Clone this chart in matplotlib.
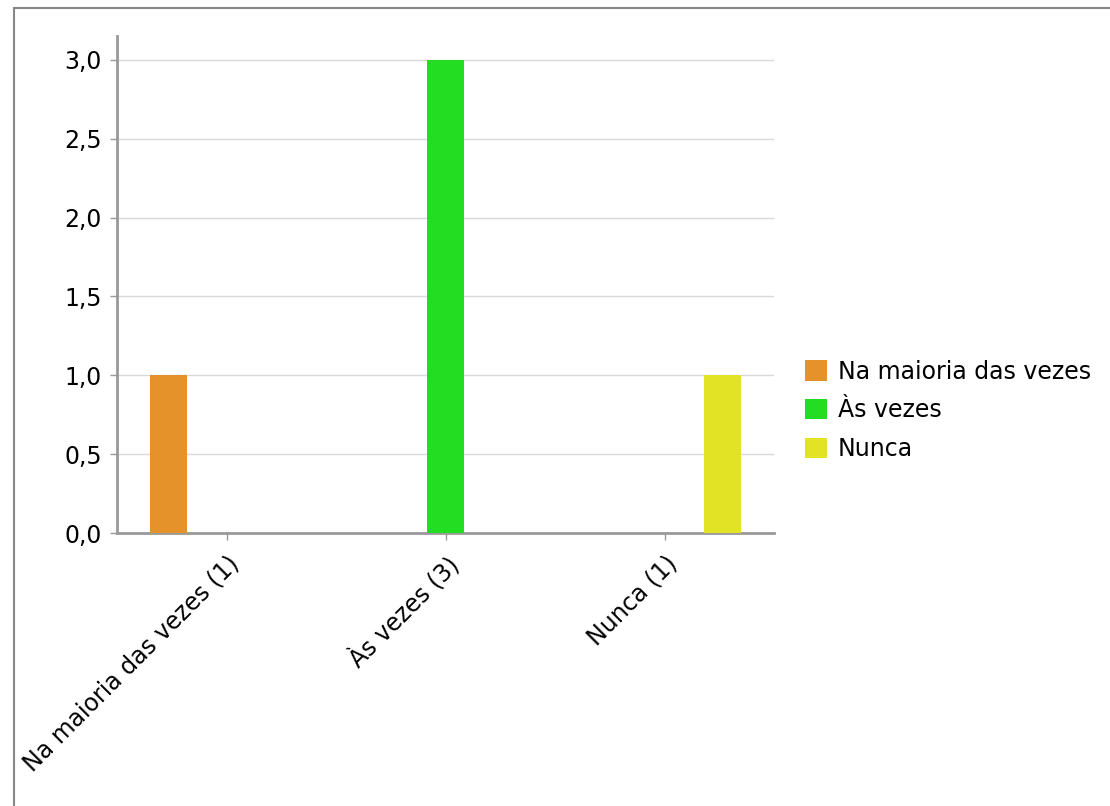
import matplotlib
matplotlib.use("Agg")
import matplotlib.pyplot as plt
from matplotlib.lines import Line2D
from matplotlib.patches import Patch

categories = ["Na maioria das vezes (1)", "Às vezes (3)", "Nunca (1)"]
series_names = ["Na maioria das vezes", "Às vezes", "Nunca"]
series_values = [
    [1, 0, 0],
    [0, 3, 0],
    [0, 0, 1],
]
colors = ["#e6922b", "#22dd22", "#e3e325"]
yticks = [0.0, 0.5, 1.0, 1.5, 2.0, 2.5, 3.0]
ytick_labels = ["0,0", "0,5", "1,0", "1,5", "2,0", "2,5", "3,0"]

W, H = 1110, 806
fig = plt.figure(figsize=(W / 100, H / 100), dpi=100)

# frame (top and left lines)
fig.add_artist(Line2D([13.5 / W, 13.5 / W], [0, 1 - 7.5 / H], transform=fig.transFigure, color="#888888", lw=1.5))
fig.add_artist(Line2D([13.5 / W, 1], [1 - 7.5 / H, 1 - 7.5 / H], transform=fig.transFigure, color="#888888", lw=1.5))

ax = fig.add_axes([117 / W, 1 - 533 / H, (774 - 117) / W, (533 - 36) / H])
ax.set_xlim(-0.5, 2.5)
ax.set_ylim(0, 3.152)

bw = 37 / 219
off = 58 / 219
for i, (name, vals, c) in enumerate(zip(series_names, series_values, colors)):
    xs = [k + (i - 1) * off for k in range(len(categories))]
    ax.bar(xs, vals, width=bw, color=c, label=name, zorder=3)

FS = 17
ax.set_yticks(yticks)
ax.set_yticklabels(ytick_labels)
ax.set_xticks(range(len(categories)))
ax.set_xticklabels(categories, rotation=45, ha="right", rotation_mode="anchor")
ax.tick_params(axis="both", colors="#999999", labelcolor="black", labelsize=FS, length=5, width=1)
ax.tick_params(axis="x", pad=8)
ax.tick_params(axis="y", pad=6)

ax.grid(axis="y", color="#d9d9d9", lw=1, zorder=0)
for s in ["top", "right"]:
    ax.spines[s].set_visible(False)
for s in ["left", "bottom"]:
    ax.spines[s].set_color("#999999")
    ax.spines[s].set_linewidth(2)

handles = [Patch(facecolor=c, edgecolor="none") for c in colors]
fig.legend(handles, series_names, loc="center left", bbox_to_anchor=(805 / W, 1 - 410.5 / H),
           frameon=False, fontsize=FS, handlelength=0.93, handleheight=0.93,
           handletextpad=0.47, labelspacing=0.63, borderpad=0, borderaxespad=0)

fig.savefig("out.png", dpi=100)
